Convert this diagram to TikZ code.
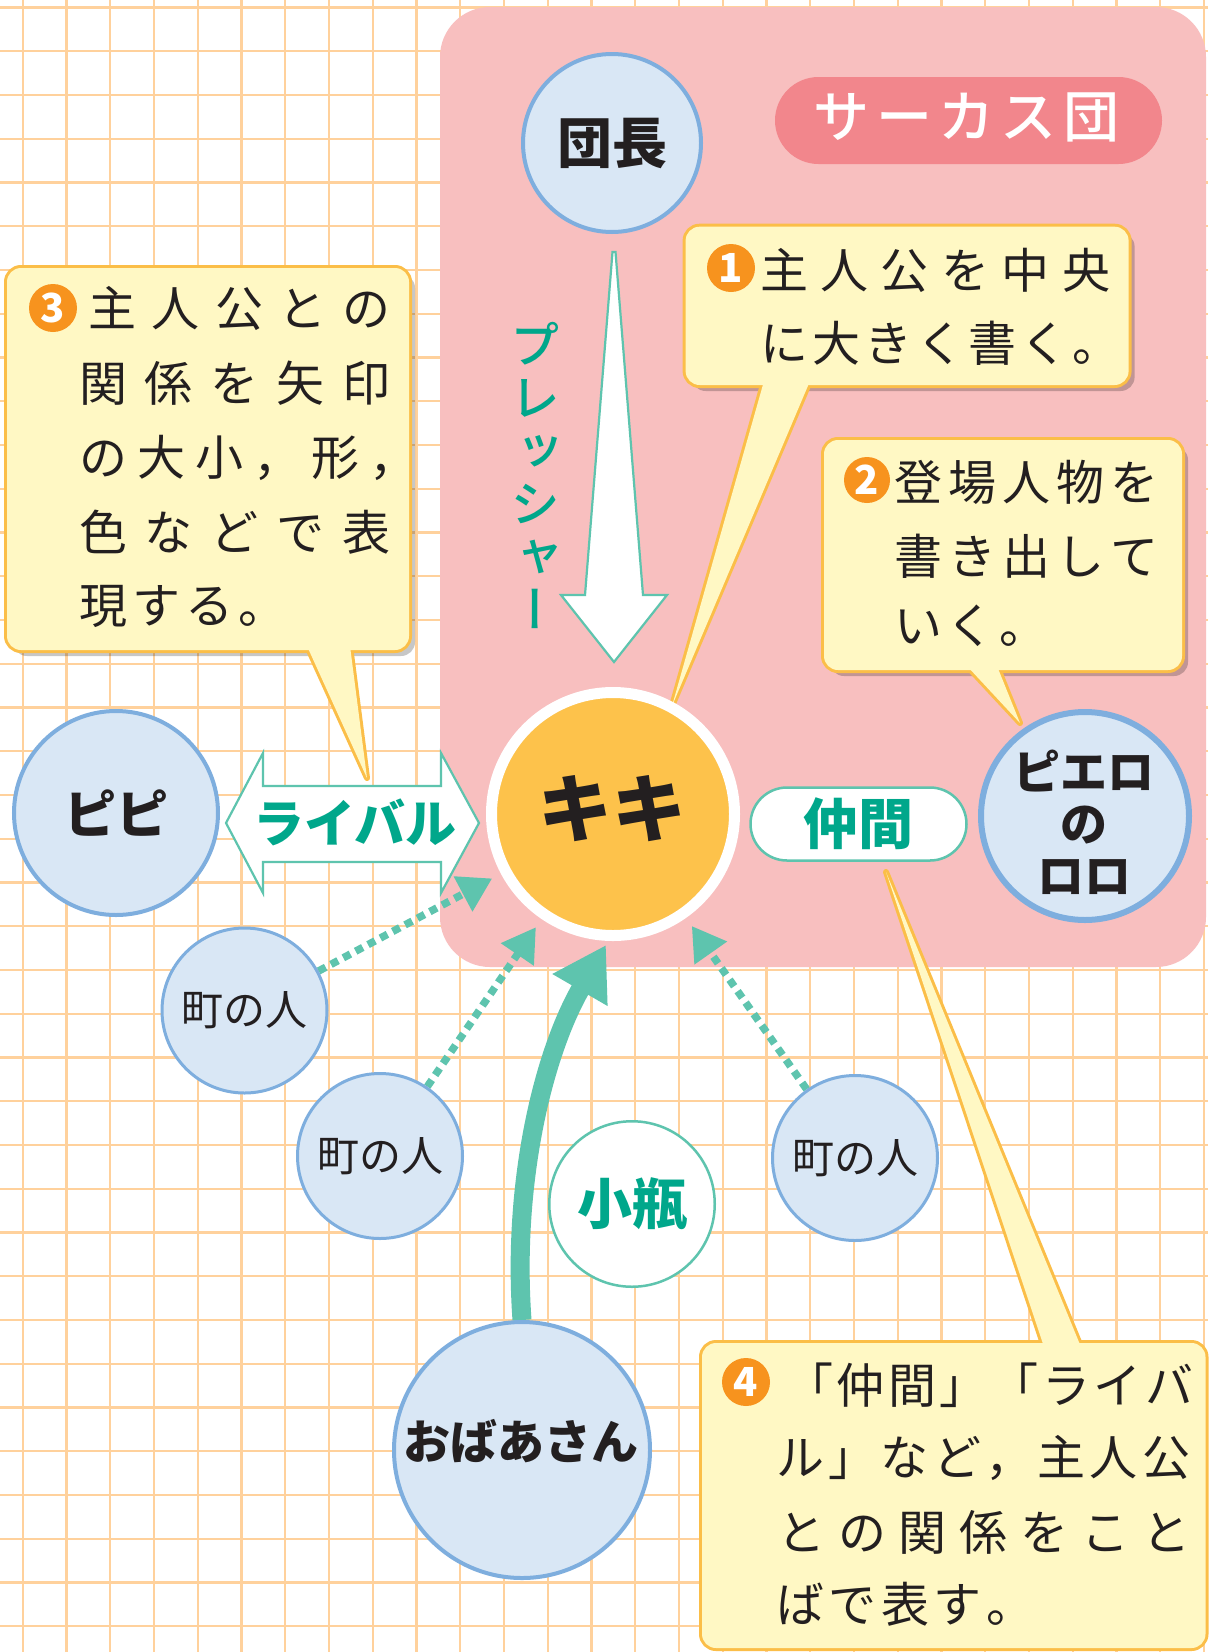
\documentclass[tikz,border=0pt]{standalone}
\usepackage{fontspec}
\newfontfamily\cjk{Noto Sans CJK JP}
\newfontfamily\cjkm{Noto Sans CJK JP Medium}
\newfontfamily\cjkv[RawFeature=+vert]{Noto Sans CJK JP Medium}
\usetikzlibrary{arrows.meta}
\definecolor{gridc}{HTML}{FFD19C}
\definecolor{pinkbg}{HTML}{F8BFBF}
\definecolor{labelpink}{HTML}{F2868C}
\definecolor{boxfill}{HTML}{FFF8C4}
\definecolor{boxline}{HTML}{FBBE48}
\definecolor{numorange}{HTML}{F7931E}
\definecolor{bluefill}{HTML}{D9E7F5}
\definecolor{blueline}{HTML}{7EAEDE}
\definecolor{tealline}{HTML}{5EC4AE}
\definecolor{tealtext}{HTML}{00A78B}
\definecolor{kikiorange}{HTML}{FDC24B}
\definecolor{textblack}{HTML}{231F20}
\makeatletter
\newcommand\trk[2]{\def\trk@g{\hskip #1\relax}\trk@a#2\trk@end}
\def\trk@a#1{#1\trk@b}
\def\trk@b#1{\ifx\trk@end#1\else\trk@g#1\expandafter\trk@b\fi}
\def\trk@end{\trk@end@}
\newcommand\spreadln[2]{\hbox to #1{\trk{0pt plus 1fill}{#2}}}
\makeatother
\pgfdeclarelayer{bg}
\pgfdeclarelayer{arr}
\pgfsetlayers{bg,arr,main}
\begin{document}
\begin{tikzpicture}[x=1pt,y=-1pt,
  gridline/.style={draw=gridc, line width=2.4pt},
  cline/.style={draw=boxline, line width=6pt, line join=round},
  shadowc/.style={fill=black, fill opacity=0.22},
  ctext/.style={font=\cjk\fontsize{48}{48}\selectfont, text=textblack, inner sep=0pt, anchor=west},
  numc/.style={circle, fill=numorange, text=white, inner sep=0pt, minimum size=48pt, font=\cjk\bfseries\fontsize{40}{40}\selectfont},
  bcirc/.style={circle, fill=bluefill, draw=blueline, inner sep=0pt},
  lab/.style={font=\cjk\bfseries\fontsize{#1}{#1}\selectfont, inner sep=0pt, text=textblack},
  tlab/.style={lab=#1, text=tealtext},
  mtext/.style={font=\cjk\fontsize{42}{42}\selectfont, inner sep=0pt, text=textblack},
  tealshape/.style={fill=white, draw=tealline, line width=2.2pt, line join=miter},
  dotarr/.style={draw=tealline, line width=7.5pt, dash pattern=on 8pt off 6pt, shorten >=10pt, -{Triangle[length=33pt,width=38pt]}},
  thickarr/.style={draw=tealline, line width=19pt, -{Triangle[length=52pt,width=60pt]}},
]
\useasboundingbox (0,0) rectangle (1208,1652);

\begin{pgfonlayer}{bg}
\fill[white] (0,0) rectangle (1208,1652);
\foreach \k in {0,...,27} \draw[gridline] ({22.7+43.75*\k},0) -- ({22.7+43.75*\k},1652);
\foreach \k in {0,...,37} \draw[gridline] (0,{7.5+43.75*\k}) -- (1208,{7.5+43.75*\k});
% circus panel
\fill[pinkbg, rounded corners=50pt] (440,7) rectangle (1206,967);
% callout 3
\fill[shadowc, rounded corners=14pt] (13,274) rectangle (415,656);
\draw[cline, rounded corners=14pt] (7,268) rectangle (409,650);
\draw[cline] (307,646) -- (367,778) -- (350,646) -- cycle;
\fill[boxfill, rounded corners=14pt] (7,268) rectangle (409,650);
\fill[boxfill] (307,646) -- (367,778) -- (350,646) -- cycle;
% callout 1
\fill[shadowc, rounded corners=14pt] (691.6,232.7) rectangle (1134.6,391);
\draw[cline, rounded corners=14pt] (685.6,226.7) rectangle (1128.6,385);
\draw[cline] (764,381) -- (672,706) -- (810,381) -- cycle;
\fill[boxfill, rounded corners=14pt] (685.6,226.7) rectangle (1128.6,385);
\fill[boxfill] (764,381) -- (672,706) -- (810,381) -- cycle;
% callout 2
\fill[shadowc, rounded corners=14pt] (830,446) rectangle (1188,676);
\draw[cline, rounded corners=14pt] (824,440) rectangle (1182,670);
\draw[cline] (967,666) -- (1020,723) -- (997,666) -- cycle;
\fill[boxfill, rounded corners=14pt] (824,440) rectangle (1182,670);
\fill[boxfill] (967,666) -- (1020,723) -- (997,666) -- cycle;
% callout 4
\draw[cline, rounded corners=14pt] (702,1343) rectangle (1205.5,1648);
\draw[cline] (1044,1347) -- (886,872) -- (1081,1347) -- cycle;
\fill[boxfill, rounded corners=14pt] (702,1343) rectangle (1205.5,1648);
\fill[boxfill] (1044,1347) -- (886,872) -- (1081,1347) -- cycle;
% pressure arrow
\path[tealshape] (612.5,252) -- (615.5,252) -- (643,595) -- (667,595) -- (614,662) -- (561,595) -- (585,595) -- cycle;
% rival double arrow
\path[tealshape] (226,823) -- (263,753) -- (263,786) -- (441,786) -- (441,753) -- (479,823) -- (441,893) -- (441,862) -- (263,862) -- (263,893) -- cycle;
\end{pgfonlayer}

% label
\node[fill=labelpink, rounded corners=43.5pt, minimum width=387pt, minimum height=87pt, inner sep=0pt] (circus) at (968.5,120.5) {};
\node[font=\cjkm\fontsize{56}{56}\selectfont, inner sep=0pt, text=white] (circustxt) at (966.5,117) {\trk{6.5pt}{サーカス団}};

% callout texts
\node[numc] (n1) at (731,268) {1};
\node[ctext] (t1a) at (760,270) {\spreadln{350pt}{主人公を中央}};
\node[ctext] (t1b) at (760,343) {\spreadln{360pt}{に大きく書く。}};
\node[numc, minimum size=46pt] (n2) at (867,480) {2};
\node[ctext] (t2a) at (894,482) {\spreadln{264pt}{登場人物を}};
\node[ctext] (t2b) at (894,556) {\spreadln{264pt}{書き出して}};
\node[ctext] (t2c) at (894,626) {\trk{4.5pt}{いく。}};
\node[numc] (n3) at (53,308) {3};
\node[ctext] (t3a) at (88,308) {\spreadln{302pt}{主人公との}};
\node[ctext] (t3b) at (79,383) {\spreadln{311pt}{関係を矢印}};
\node[ctext] (t3c) at (79,458) {\trk{10pt}{の大小，形，}};
\node[ctext] (t3d) at (79,532) {\spreadln{311pt}{色などで表}};
\node[ctext] (t3e) at (79,606) {\trk{5pt}{現する。}};
\node[numc] (n4) at (746,1382) {4};
\node[ctext] (t4a) at (785,1385) {\spreadln{408pt}{「仲間」「ライバ}};
\node[ctext] (t4b) at (776,1458) {\spreadln{414pt}{ル」など，主人公}};
\node[ctext] (t4c) at (777,1532) {\spreadln{413pt}{との関係をこと}};
\node[ctext] (t4d) at (776,1604) {\trk{4.5pt}{ばで表す。}};

% labels on shapes
\node[inner sep=0pt, text=tealtext, font=\cjkv\fontsize{50}{53}\selectfont, align=center] (press) at (535,475) {プ\\レ\\ッ\\シ\\ャ\\ー};
\node[tlab=51] (rivaltxt) at (355,822) {ライバル};

% characters
\node[bcirc, line width=4pt, minimum size=178pt, lab=55] (dancho) at (612,143) {団長};
\node[circle, fill=kikiorange, draw=white, line width=11pt, minimum size=243pt, inner sep=0pt] (kiki) at (613,814) {};
\node[lab=74] (kikitxt) at (612,809) {キキ};
\node[bcirc, line width=4pt, minimum size=204pt, lab=52] (pipi) at (116,813) {ピピ};
\node[bcirc, line width=6pt, minimum size=208pt] (piero) at (1085,816) {};
\node[inner sep=0pt, text=textblack, font=\cjk\bfseries\fontsize{47}{52}\selectfont, align=center] (pierotxt) at (1084,822.5) {ピエロ\\の\\ロロ};
\node[fill=white, draw=tealline, line width=2.5pt, rounded corners=36.5pt, minimum width=216pt, minimum height=73pt, tlab=55] (nakama) at (858.5,824) {仲間};
\node[bcirc, line width=3pt, minimum size=165pt, mtext] (m1) at (244.5,1010.5) {町の人};
\node[bcirc, line width=3pt, minimum size=165pt, mtext] (m2) at (380,1156) {町の人};
\node[bcirc, line width=3pt, minimum size=165pt, mtext] (m3) at (855,1158) {町の人};
\node[circle, fill=white, draw=tealline, line width=2.5pt, minimum size=165.5pt, tlab=55] (kobin) at (632,1204) {小瓶};
\node[bcirc, line width=4pt, minimum size=256pt] (oba) at (522,1450) {};
\node[lab=47] (obatxt) at (521,1441) {おばあさん};
\coordinate (kikitip) at (606,945);

\begin{pgfonlayer}{arr}
\draw[dotarr] (m1) -- (kiki);
\draw[dotarr] (m2) -- (kiki);
\draw[dotarr] (m3) -- (kiki);
\draw[thickarr] (oba.north) .. controls (512,1180) and (544,1052) .. (kikitip);
\end{pgfonlayer}
\end{tikzpicture}
\end{document}
